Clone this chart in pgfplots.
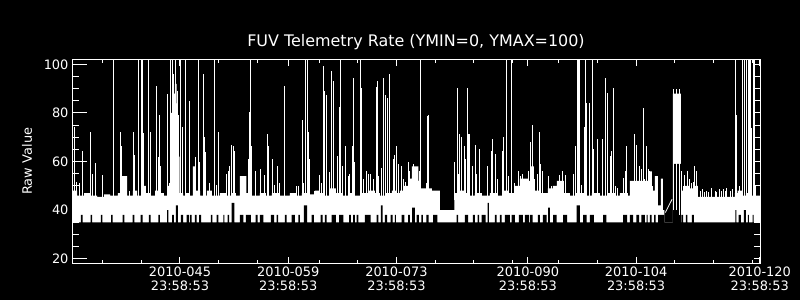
\documentclass[border=0pt]{standalone}
\usepackage{pgfplots}
\pgfplotsset{compat=1.18}
\usepackage{pgfplotstable}
\usepackage{fontspec}
\setmainfont{DejaVu Sans}
\newcommand\tickfont{\fontsize{13}{14}\selectfont}
\newcommand\titlefont{\fontsize{16}{18}\selectfont}

% upper envelope of the dense white band (day of year, value)
\pgfplotstableread{
x y
32.03 48
32.68 46
33.59 47
34.36 46
35.27 45.5
36.17 46.5
36.95 46
37.98 47
38.50 54
39.15 46
39.92 48
40.44 46
41.09 50
41.60 47
42.12 46
42.77 48
43.41 47
43.93 46
44.45 50
44.84 80
45.09 88
45.35 92
45.55 84
45.74 62
45.94 47
46.39 46
46.78 47
47.29 46
47.68 58
48.07 48
48.59 46
49.49 48
50.14 46
51.17 47
51.95 46
52.72 47
53.24 46
53.76 54
54.60 47
55.31 46
56.34 47
57.12 46
57.90 47
58.93 46
60.22 47
61.00 46
61.78 47
62.55 46.5
63.46 48
64.10 47
64.75 46
65.40 49
66.17 47
66.95 46
67.98 47
68.63 46
69.53 47
70.31 48
71.22 47
71.86 46
72.64 47
73.41 48
74.06 47
74.45 48
74.97 50
75.61 53
76.00 58
76.84 52
77.16 49
78.59 48
79.62 40
81.50 47
82.21 48
82.98 47
83.50 46
84.15 47
85.05 46
86.09 47
86.99 46
87.77 48
88.41 47
89.32 50
89.97 53
91.00 52
91.39 58
91.78 48
92.56 47
93.59 49
94.23 50
94.75 52
95.66 47
96.43 46
97.21 47
98.37 46
99.28 47
100.31 46
101.34 47
102.25 46
102.90 47
103.93 46
104.19 52
106.52 48
106.78 56
107.03 48
107.42 54
107.81 42
108.20 53
108.46 40
108.65 35
109.75 88
110.78 48
111.30 50
111.95 49
112.59 50
112.98 45.5
117.77 47
118.15 48
118.67 46
119.19 47
119.96 46
121.03 46
}\upperenv

% lower edge of the band (gaps in the data)
\pgfplotstableread{
x y
32.03 35
33.19 38
33.41 35
34.45 38
34.62 35
35.75 38
35.95 35
37.08 38
37.30 35
38.59 38
38.80 35
39.88 38
40.09 35
40.92 38
41.18 35
41.99 38
42.21 35
43.19 38
43.41 35
44.32 40
44.51 35
44.97 38
45.22 35
45.48 42
45.74 35
46.13 38
46.39 35
46.87 38
47.16 35
47.29 38
47.51 35
47.94 38
48.16 35
48.46 38
48.72 35
50.01 38
50.18 35
50.75 38
50.95 35
51.60 38
51.73 35
52.17 38
52.34 35
52.69 43
53.02 35
53.76 38
54.19 35
54.53 38
55.18 35
55.79 38
56.05 35
56.34 38
56.77 35
57.77 38
58.19 35
58.50 38
58.71 35
59.58 38
59.80 35
60.44 38
60.87 35
61.30 38
61.52 35
62.03 42
62.46 35
63.03 38
63.33 35
64.19 38
64.45 35
64.75 38
64.97 35
65.62 38
66.17 35
66.60 38
67.12 35
67.89 38
68.11 35
68.41 38
68.63 35
68.85 38
69.06 35
69.92 38
70.66 35
71.43 38
71.65 35
71.99 42
72.21 35
72.51 38
72.81 35
73.24 38
73.50 35
73.80 38
73.93 35
74.67 38
75.01 35
75.52 38
75.74 35
76.04 41
76.39 35
76.61 38
76.91 35
77.22 38
77.43 35
77.87 38
78.16 35
78.73 38
79.30 35
81.78 38
81.99 35
82.85 38
83.28 35
83.89 38
84.15 35
84.49 38
84.70 35
85.01 38
85.53 35
85.79 43
85.96 35
86.73 38
86.95 35
87.38 38
87.60 35
88.03 38
88.67 35
88.89 38
89.32 35
89.84 38
90.35 35
90.61 38
91.13 35
91.26 38
91.61 35
92.29 38
92.56 35
92.95 38
93.42 35
93.62 41
93.84 35
94.27 38
94.71 35
95.56 38
96.08 35
97.30 42
97.72 35
98.15 38
98.59 35
99.02 38
99.53 35
100.74 38
101.17 35
103.32 38
103.84 35
104.19 38
104.62 35
105.05 38
105.39 35
105.70 38
106.13 35
106.35 38
106.48 35
106.78 38
107.00 35
107.34 38
107.52 35
107.86 38
108.65 35
109.75 59
110.78 35
110.87 38
111.07 35
111.43 38
111.64 35
112.21 38
112.47 35
117.83 40
117.96 35
118.28 38
118.54 35
118.93 40
119.19 35
119.45 38
119.58 35
120.09 38
120.22 35
121.03 35
}\lowerenv

% spikes: day, from, to
\pgfplotstableread{
x lo hi
32.33 44 74.3
32.64 44 51.7
32.94 44 51
33.37 44 64.3
34.36 44 72
34.66 44 55
35.01 44 59.5
35.95 44 54.5
37.37 44 120
38.24 44 72
38.46 44 66.5
39.53 44 48
39.96 44 72
40.09 44 62.7
40.61 44 120
40.96 44 120
41.13 44 120
41.26 44 71.6
41.90 44 62.7
41.99 44 120
42.12 44 72
42.99 44 91
43.16 44 62
43.32 44 79
43.50 44 58
44.36 44 88
44.58 44 51
44.80 44 120
45.00 44 120
45.22 44 96
45.44 44 120
45.65 44 89
45.78 44 79
46.09 44 120
46.35 44 74.3
46.75 44 120
47.29 44 84.8
48.03 44 62
48.37 44 120
48.50 44 60
49.01 44 96
49.14 44 70
49.32 44 64
49.88 44 51
50.40 44 120
50.49 44 120
50.66 44 50.4
50.95 44 72.3
51.99 44 55
52.25 44 56
52.38 44 58
52.69 44 67
52.89 44 66.5
53.11 44 64.3
54.83 44 61
54.96 44 80.5
55.09 44 120
55.22 44 66.5
55.83 44 56
56.47 44 57
56.99 44 54.4
57.29 44 71.3
57.42 44 66.5
57.94 44 61
58.28 44 50.3
58.58 44 58
58.93 44 51
59.49 44 58
59.58 44 91
61.09 44 50
61.39 44 50
61.81 44 77
62.03 44 51
62.25 44 120
62.46 44 120
62.59 44 72
62.72 44 61
63.46 44 48
64.02 44 54.4
64.33 44 51
64.53 44 99.3
64.75 44 89
64.92 44 87.3
65.40 44 55.5
65.57 44 97.2
65.83 44 93
66.39 44 62.3
66.60 44 82.3
66.78 44 120
67.04 44 58
67.47 44 66.5
67.76 44 54
67.89 44 55
68.28 44 66.5
68.41 44 94.2
68.63 44 60
69.31 44 120
69.44 44 90.4
69.70 44 53
70.14 44 56
70.44 44 55
70.70 44 55
71.00 44 53
71.43 44 90.5
71.56 44 93
71.69 44 54
72.08 44 57.4
72.38 44 94.5
72.60 44 87.3
72.86 44 86
73.06 44 96
73.58 44 61
73.80 44 62.7
74.02 44 66.4
74.32 44 59
74.67 44 58
74.88 44 53
75.22 44 51.7
75.52 44 60
75.74 44 56
76.17 44 59
77.03 44 56
77.16 44 120
77.84 44 51
77.97 44 78.7
78.10 44 79
81.47 44 60
81.86 44 90.4
81.99 44 55
82.12 44 71.3
82.43 44 70.2
82.76 44 66.5
82.94 44 61
83.15 44 90.4
83.31 44 71.5
83.50 44 71.5
83.80 44 58
84.21 44 67
84.34 44 55
84.68 44 65
85.83 44 58
86.27 44 64.3
86.48 44 69.3
86.83 44 63
87.05 44 53
87.78 44 64.3
87.91 44 70.2
88.26 44 120
88.52 44 54
88.87 44 120
89.30 44 51
89.74 44 56
90.08 44 54
90.25 44 55
90.51 44 53
91.12 44 56
91.38 44 68
91.59 44 75
91.88 44 53
92.24 44 55
92.55 44 72
92.68 44 59
92.89 44 56
93.67 44 54
94.11 44 50
95.05 44 54.4
95.48 44 56
95.83 44 54.4
96.91 44 55
97.22 44 66.5
97.45 44 120
97.58 44 120
97.71 44 120
98.00 44 50.3
98.30 44 74.3
98.43 44 120
98.65 44 84.2
98.94 44 84
99.38 44 120
99.51 44 65
100.03 44 69.3
100.68 44 69.3
101.07 44 94.5
101.25 44 88.3
101.68 44 62.3
101.85 44 64.3
102.11 44 90.4
102.33 44 50
102.63 44 49
103.37 44 53.3
103.63 44 56
103.72 44 66.5
104.79 44 71.3
105.09 44 67
105.44 44 58
105.70 44 57
106.00 44 82
106.09 44 53
106.39 44 66.5
106.62 44 57
106.78 44 56
107.16 44 50
108.28 44 53
109.88 40 90
110.27 40 90
110.62 38 90
110.87 44 56
111.07 44 50
111.30 44 54.4
111.65 44 56
111.85 44 53
112.16 44 51
112.46 44 51.7
112.59 44 58
112.81 44 56
113.27 44 48
113.57 44 48.5
113.83 44 47.5
114.14 44 48
114.35 44 47.5
114.78 44 49
115.21 44 48
115.43 44 47.5
115.73 44 48.5
116.08 44 48
116.29 44 48.5
116.51 44 48
116.73 44 49
117.15 44 48
117.45 44 48.5
117.83 44 120
117.96 44 68
118.03 44 79
118.41 44 50
118.83 44 120
119.06 44 120
119.28 44 120
119.51 44 120
119.64 44 120
119.77 44 120
119.92 44 74
120.15 44 120
120.35 44 120
120.47 44 50
}\spikes

\pgfplotsset{fuvbase/.style={
  at={(72bp,36.7bp)}, anchor=south west,
  scale only axis, width=688bp, height=204bp,
  xmin=32.03, xmax=121.03, ymin=18.1, ymax=102.1,
  axis line style={white, line width=1bp},
  tick style={white, line width=1bp},
  tick label style={text=white, font=\tickfont},
}}

\begin{document}
\begin{tikzpicture}
\useasboundingbox (0,0) rectangle (800bp,300bp);
\fill[black] (0,0) rectangle (800bp,300bp);

\begin{axis}[fuvbase, axis on top,
  ytick=\empty,
  xtick={46,60,74,91,105,121},
  xticklabels={{2010-045\\23:58:53},{2010-059\\23:58:53},{2010-073\\23:58:53},{2010-090\\23:58:53},{2010-104\\23:58:53},{2010-120\\23:58:53}},
  minor xtick={36,41,51,56,64,69,79,84,89,95,100,110,115,120},
  major tick length=6.5bp, minor tick length=3.5bp,
  xticklabel style={align=center},
  title={FUV Telemetry Rate (YMIN=0, YMAX=100)},
  title style={at={(axis description cs:0.5,1)}, anchor=base, yshift=7bp, font=\titlefont, text=white},
]
\addplot[fill=white, draw=none, const plot] table[x=x, y=y] {\upperenv} \closedcycle;
\addplot[fill=black, draw=none, const plot] table[x=x, y=y] {\lowerenv} \closedcycle;
\addplot[white, line width=1bp, quiver={u=0, v=\thisrow{hi}-\thisrow{lo}}] table[x=x, y=lo] {\spikes};
\addplot[white, line width=0.8bp] coordinates {(108.78,39) (109.66,44.5)};
\end{axis}

\begin{axis}[fuvbase,
  xtick=\empty,
  ytick={20,40,60,80,100},
  minor ytick={25,30,35,45,50,55,65,70,75,85,90,95},
  ytick pos=left,
  major tick length=15bp, minor tick length=7.5bp,
  /pgf/number format/assume math mode=true,
  ylabel={Raw Value},
  every axis y label/.style={at={(axis description cs:-0.0654,0.5)}, rotate=90, anchor=center, font=\tickfont, text=white},
]
\end{axis}

\begin{axis}[fuvbase,
  xtick=\empty,
  ytick={20,40,60,80,100},
  minor ytick={25,30,35,45,50,55,65,70,75,85,90,95},
  ytick pos=right, yticklabels={},
  major tick length=6bp, minor tick length=6bp,
]
\end{axis}
\end{tikzpicture}
\end{document}
